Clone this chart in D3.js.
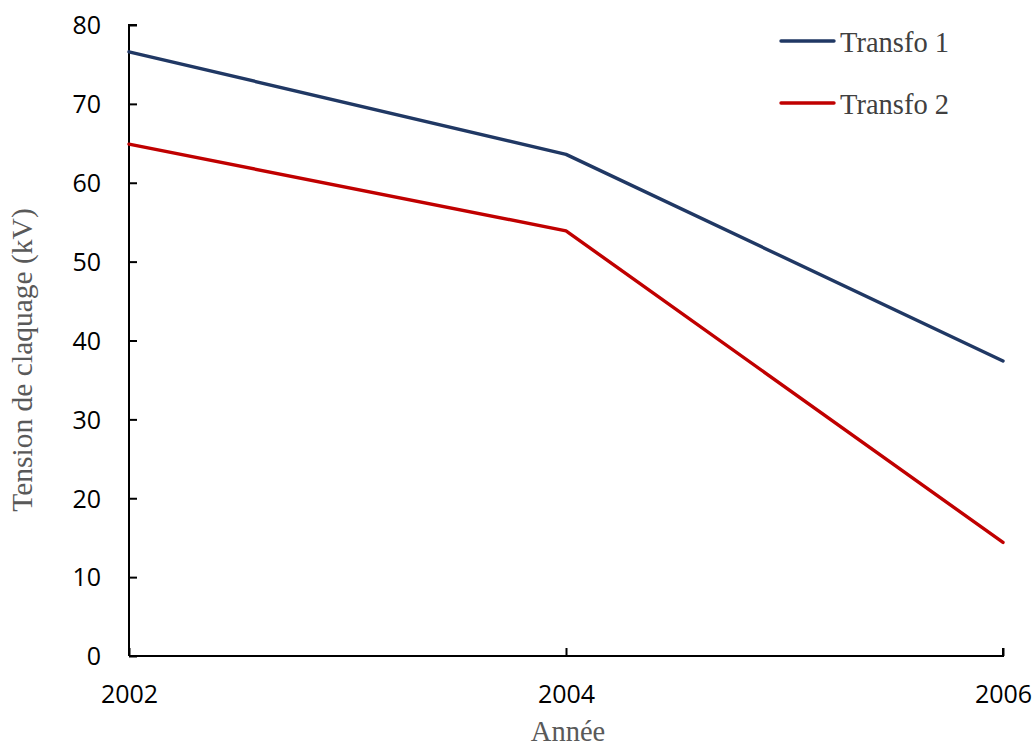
<!DOCTYPE html>
<html>
<head>
<meta charset="utf-8">
<script src="https://cdn.jsdelivr.net/npm/d3@7"></script>
<style>
  html, body { margin: 0; padding: 0; background: #fff; }
  svg { display: block; }
</style>
</head>
<body>
<svg id="chart" width="1035" height="746"></svg>
<script>
// Breakdown voltage of transformer oil, per year
const years = [2002, 2004, 2006];
const transfo1 = [76.6, 63.6, 37.4];
const transfo2 = [64.9, 53.9, 14.4];
const seriesNames = ["Transfo 1", "Transfo 2"];
const seriesColors = ["#203864", "#C00000"];
const yTicks = [0, 10, 20, 30, 40, 50, 60, 70, 80];

const svg = d3.select("#chart");
const plotLeft = 129, plotRight = 1003, plotTop = 25, plotBottom = 656;

const x = d3.scaleLinear().domain([2002, 2006]).range([plotLeft, plotRight]);
const y = d3.scaleLinear().domain([0, 80]).range([plotBottom, plotTop]);

const tickFont = "'Open Sans', sans-serif";
const serif = "'Liberation Serif', 'Times New Roman', serif";

// Y axis, ticks pointing inward
const yAxis = svg.append("g")
  .attr("transform", `translate(${plotLeft},0)`)
  .call(d3.axisRight(y).tickValues(yTicks).tickSize(8).tickFormat(d3.format("d")));
yAxis.select(".domain").attr("stroke", "#000").attr("stroke-width", 2)
  .attr("d", `M8,${plotTop}H0V${plotBottom}`);
yAxis.selectAll(".tick line").attr("stroke", "#000").attr("stroke-width", 2);
yAxis.selectAll(".tick text")
  .attr("x", -28).attr("text-anchor", "end").attr("dy", "0.35em")
  .attr("font-family", tickFont).attr("font-size", 25).attr("fill", "#000");

// X axis, ticks pointing inward
const xAxis = svg.append("g")
  .attr("transform", `translate(0,${plotBottom})`)
  .call(d3.axisTop(x).tickValues(years).tickSize(8).tickFormat(d3.format("d")));
xAxis.select(".domain").attr("stroke", "#000").attr("stroke-width", 2)
  .attr("d", `M${plotLeft},0H${plotRight}V-8`);
xAxis.selectAll(".tick line").attr("stroke", "#000").attr("stroke-width", 2);
xAxis.selectAll(".tick text")
  .attr("y", 47).attr("dy", 0).attr("text-anchor", "middle")
  .attr("font-family", tickFont).attr("font-size", 25).attr("fill", "#000");

// Series lines
const line = d3.line().x((d, i) => x(years[i])).y(d => y(d));
[transfo1, transfo2].forEach((vals, k) => {
  svg.append("path")
    .datum(vals)
    .attr("d", line)
    .attr("fill", "none")
    .attr("stroke", seriesColors[k])
    .attr("stroke-width", 3.4)
    .attr("stroke-linejoin", "round")
    .attr("stroke-linecap", "round");
});

// Legend
const legend = svg.append("g");
seriesNames.forEach((name, k) => {
  const ly = 41 + k * 62;
  legend.append("line")
    .attr("x1", 781).attr("x2", 834).attr("y1", ly).attr("y2", ly)
    .attr("stroke", seriesColors[k]).attr("stroke-width", 3.4)
    .attr("stroke-linecap", "round");
  legend.append("text")
    .attr("x", 840).attr("y", ly + 11)
    .attr("font-family", serif).attr("font-size", 28.5).attr("fill", "#404040")
    .text(name);
});

// Axis titles
svg.append("text")
  .attr("transform", `translate(32,360) rotate(-90)`)
  .attr("text-anchor", "middle")
  .attr("font-family", serif).attr("font-size", 29.5).attr("fill", "#595959")
  .text("Tension de claquage (kV)");

svg.append("text")
  .attr("x", (plotLeft + plotRight) / 2 + 2).attr("y", 741)
  .attr("text-anchor", "middle")
  .attr("font-family", serif).attr("font-size", 28.5).attr("fill", "#595959")
  .text("Année");
</script>
</body>
</html>
